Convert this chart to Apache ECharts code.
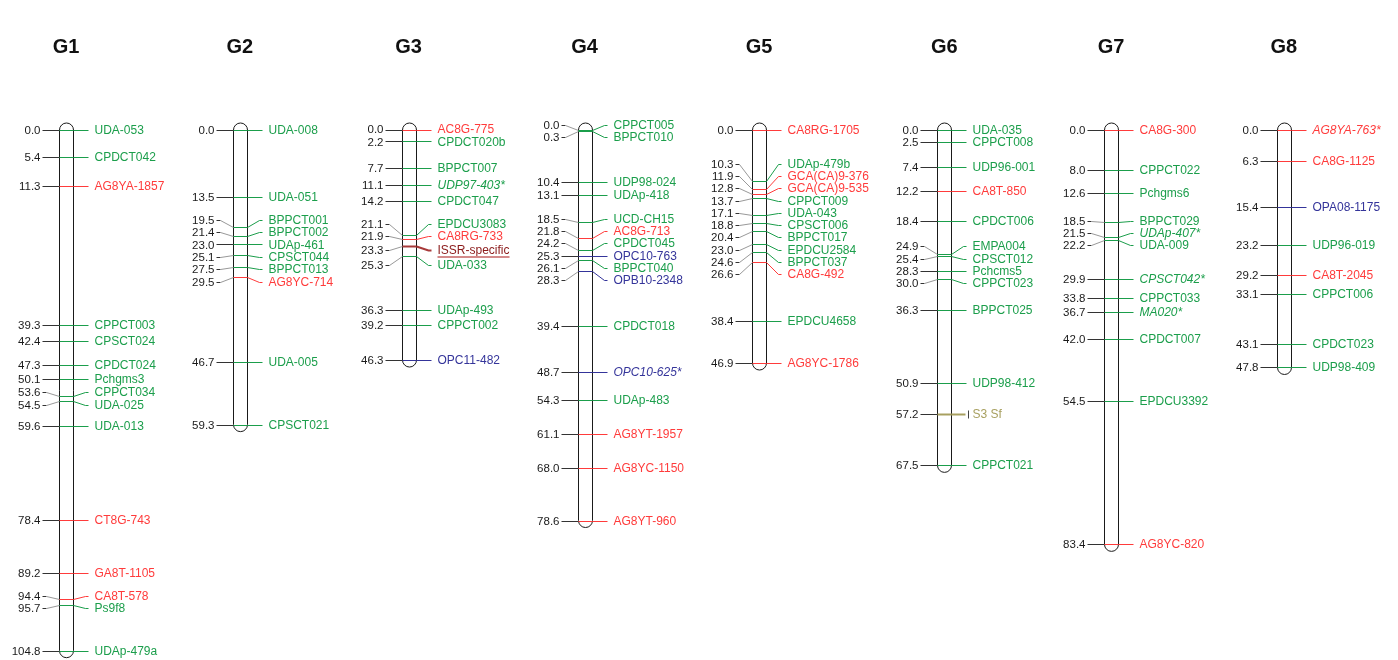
<!DOCTYPE html>
<html>
<head>
<meta charset="utf-8">
<script src="https://cdn.jsdelivr.net/npm/echarts@6/dist/echarts.min.js"></script>
<style>html,body{margin:0;padding:0;background:#fff}#main{width:1398px;height:660px}</style>
</head>
<body>
<div id="main"></div>
<script>
// ---- DATA ----
// Linkage groups; each marker: [position cM, marker name, marker class]
// classes: S = SSR (green), I = ISSR (red), R = RAPD (blue), L = S-locus (olive), X = ISSR-specific (dark red)
const groupNames = ['G1', 'G2', 'G3', 'G4', 'G5', 'G6', 'G7', 'G8'];
const G1 = [
  [0.0, 'UDA-053', 'S'], [5.4, 'CPDCT042', 'S'], [11.3, 'AG8YA-1857', 'I'], [39.3, 'CPPCT003', 'S'],
  [42.4, 'CPSCT024', 'S'], [47.3, 'CPDCT024', 'S'], [50.1, 'Pchgms3', 'S'], [53.6, 'CPPCT034', 'S'],
  [54.5, 'UDA-025', 'S'], [59.6, 'UDA-013', 'S'], [78.4, 'CT8G-743', 'I'], [89.2, 'GA8T-1105', 'I'],
  [94.4, 'CA8T-578', 'I'], [95.7, 'Ps9f8', 'S'], [104.8, 'UDAp-479a', 'S']
];
const G2 = [
  [0.0, 'UDA-008', 'S'], [13.5, 'UDA-051', 'S'], [19.5, 'BPPCT001', 'S'], [21.4, 'BPPCT002', 'S'],
  [23.0, 'UDAp-461', 'S'], [25.1, 'CPSCT044', 'S'], [27.5, 'BPPCT013', 'S'], [29.5, 'AG8YC-714', 'I'],
  [46.7, 'UDA-005', 'S'], [59.3, 'CPSCT021', 'S']
];
const G3 = [
  [0.0, 'AC8G-775', 'I'], [2.2, 'CPDCT020b', 'S'], [7.7, 'BPPCT007', 'S'], [11.1, 'UDP97-403*', 'S'],
  [14.2, 'CPDCT047', 'S'], [21.1, 'EPDCU3083', 'S'], [21.9, 'CA8RG-733', 'I'], [23.3, 'ISSR-specific', 'X'],
  [25.3, 'UDA-033', 'S'], [36.3, 'UDAp-493', 'S'], [39.2, 'CPPCT002', 'S'], [46.3, 'OPC11-482', 'R']
];
const G4 = [
  [0.0, 'CPPCT005', 'S'], [0.3, 'BPPCT010', 'S'], [10.4, 'UDP98-024', 'S'], [13.1, 'UDAp-418', 'S'],
  [18.5, 'UCD-CH15', 'S'], [21.8, 'AC8G-713', 'I'], [24.2, 'CPDCT045', 'S'], [25.3, 'OPC10-763', 'R'],
  [26.1, 'BPPCT040', 'S'], [28.3, 'OPB10-2348', 'R'], [39.4, 'CPDCT018', 'S'], [48.7, 'OPC10-625*', 'R'],
  [54.3, 'UDAp-483', 'S'], [61.1, 'AG8YT-1957', 'I'], [68.0, 'AG8YC-1150', 'I'], [78.6, 'AG8YT-960', 'I']
];
const G5 = [
  [0.0, 'CA8RG-1705', 'I'], [10.3, 'UDAp-479b', 'S'], [11.9, 'GCA(CA)9-376', 'I'], [12.8, 'GCA(CA)9-535', 'I'],
  [13.7, 'CPPCT009', 'S'], [17.1, 'UDA-043', 'S'], [18.8, 'CPSCT006', 'S'], [20.4, 'BPPCT017', 'S'],
  [23.0, 'EPDCU2584', 'S'], [24.6, 'BPPCT037', 'S'], [26.6, 'CA8G-492', 'I'], [38.4, 'EPDCU4658', 'S'],
  [46.9, 'AG8YC-1786', 'I']
];
const G6 = [
  [0.0, 'UDA-035', 'S'], [2.5, 'CPPCT008', 'S'], [7.4, 'UDP96-001', 'S'], [12.2, 'CA8T-850', 'I'],
  [18.4, 'CPDCT006', 'S'], [24.9, 'EMPA004', 'S'], [25.4, 'CPSCT012', 'S'], [28.3, 'Pchcms5', 'S'],
  [30.0, 'CPPCT023', 'S'], [36.3, 'BPPCT025', 'S'], [50.9, 'UDP98-412', 'S'], [57.2, 'S3 Sf', 'L'],
  [67.5, 'CPPCT021', 'S']
];
const G7 = [
  [0.0, 'CA8G-300', 'I'], [8.0, 'CPPCT022', 'S'], [12.6, 'Pchgms6', 'S'], [18.5, 'BPPCT029', 'S'],
  [21.5, 'UDAp-407*', 'S'], [22.2, 'UDA-009', 'S'], [29.9, 'CPSCT042*', 'S'], [33.8, 'CPPCT033', 'S'],
  [36.7, 'MA020*', 'S'], [42.0, 'CPDCT007', 'S'], [54.5, 'EPDCU3392', 'S'], [83.4, 'AG8YC-820', 'I']
];
const G8 = [
  [0.0, 'AG8YA-763*', 'I'], [6.3, 'CA8G-1125', 'I'], [15.4, 'OPA08-1175', 'R'], [23.2, 'UDP96-019', 'S'],
  [29.2, 'CA8T-2045', 'I'], [33.1, 'CPPCT006', 'S'], [43.1, 'CPDCT023', 'S'], [47.8, 'UDP98-409', 'S']
];
const groups = [G1, G2, G3, G4, G5, G6, G7, G8];

// ---- STYLE ----
const FONT_FAMILY = '"Liberation Sans", Arial, Helvetica, sans-serif';
const classColor = { S: '#1b9e4b', I: '#ff3b3b', R: '#34349a', L: '#a8a060', X: '#8b1a1a' };
const BAR_W = 14;
const LABEL_H = 12.3;

function nameFont(name) {
  return (name.endsWith('*') ? 'italic ' : '') + '12px ' + FONT_FAMILY;
}
const measureCtx = document.createElement('canvas').getContext('2d');
function textW(str, font) { measureCtx.font = font; return measureCtx.measureText(str).width; }

// horizontal layout: each group is placed after the widest right-hand label of the previous one
const centers = [0];
for (let i = 1; i < groups.length; i++) {
  const w = Math.max.apply(null, groups[i - 1].map(m => textW(m[1], nameFont(m[1]))));
  centers.push(centers[i - 1] + 104 + w);
}

// spread labels so they do not overlap; h[k] is the label height of item k
function spread(t, h) {
  const clusters = [];
  const gapBetween = (a, b) => (h[a] + h[b]) / 2;
  t.forEach((v, i) => {
    clusters.push({ idx: [i], off: [0], start: v });
    while (clusters.length > 1) {
      const a = clusters[clusters.length - 2], b = clusters[clusters.length - 1];
      const aLast = a.idx[a.idx.length - 1];
      const g = gapBetween(aLast, b.idx[0]);
      if (a.start + a.off[a.off.length - 1] + g > b.start + 1e-6) {
        const base = a.off[a.off.length - 1] + g;
        const idx = a.idx.concat(b.idx);
        const off = a.off.concat(b.off.map(o => o + base));
        let s = 0;
        idx.forEach((k, j) => { s += t[k] - off[j]; });
        clusters.splice(-2, 2, { idx: idx, off: off, start: s / idx.length });
      } else break;
    }
  });
  const out = new Array(t.length);
  clusters.forEach(c => c.idx.forEach((k, j) => { out[k] = c.start + c.off[j]; }));
  return out;
}

function renderGroup(params, api) {
  const gi = api.value(1);
  const xv = api.value(0);
  const list = groups[gi];
  const cx = api.coord([xv, 0])[0];
  const bl = Math.round(cx - BAR_W / 2) + 0.5, br = bl + BAR_W;
  const tY = list.map(m => api.coord([xv, m[0]])[1]);
  const lY = spread(tY, list.map(m => m[2] === 'X' ? LABEL_H + 4 : LABEL_H));
  const yTop = api.coord([xv, 0])[1];
  const yEnd = api.coord([xv, list[list.length - 1][0]])[1];
  const children = [];
  children.push({
    type: 'text', x: cx, y: 47,
    style: { text: groupNames[gi], font: 'bold 20px ' + FONT_FAMILY, fill: '#111', align: 'center', verticalAlign: 'middle' }
  });
  children.push({
    type: 'rect',
    shape: { x: bl, y: yTop - 7, width: BAR_W, height: yEnd - yTop + 14, r: 7 },
    style: { fill: '#fff', stroke: '#1a1a1a', lineWidth: 1 }
  });
  list.forEach((mk, k) => {
    const c = classColor[mk[2]];
    const m = Math.round(tY[k]) + 0.5;
    const l = Math.round(lY[k]) + 0.5;
    const moved = Math.abs(lY[k] - tY[k]) > 1;
    const lw = (mk[2] === 'L' || mk[2] === 'X') ? 2 : 1;
    const lineCol = mk[2] === 'X' ? '#a83a3a' : c;
    if (!moved) {
      children.push({ type: 'line', shape: { x1: bl - 17, y1: m, x2: bl, y2: m }, style: { stroke: '#333', lineWidth: 1 } });
    } else {
      children.push({ type: 'line', shape: { x1: bl - 17, y1: l, x2: bl - 13, y2: l }, style: { stroke: '#333', lineWidth: 1 } });
      children.push({ type: 'line', shape: { x1: bl - 13, y1: l, x2: bl, y2: m }, style: { stroke: '#999', lineWidth: 1 } });
    }
    children.push({ type: 'line', shape: { x1: bl, y1: m, x2: br, y2: m }, style: { stroke: lineCol, lineWidth: lw } });
    if (!moved) {
      children.push({ type: 'line', shape: { x1: br, y1: m, x2: br + (mk[2] === 'L' ? 14 : 15), y2: m }, style: { stroke: lineCol, lineWidth: lw } });
    } else {
      children.push({ type: 'polyline', shape: { points: [[br, m], [br + 12, l], [br + 15, l]] }, style: { stroke: lineCol, lineWidth: lw, fill: null } });
    }
    if (mk[2] === 'L') {
      children.push({ type: 'line', shape: { x1: br + 17, y1: l - 4, x2: br + 17, y2: l + 4 }, style: { stroke: '#444', lineWidth: 1 } });
    }
    children.push({
      type: 'text', x: bl - 19, y: l,
      style: { text: mk[0].toFixed(1), font: '11.5px ' + FONT_FAMILY, fill: '#1a1a1a', align: 'right', verticalAlign: 'middle' }
    });
    children.push({
      type: 'text', x: br + 21, y: l,
      style: { text: mk[1], font: nameFont(mk[1]), fill: c, align: 'left', verticalAlign: 'middle' }
    });
    if (mk[2] === 'X') {
      const w = textW(mk[1], nameFont(mk[1]));
      children.push({ type: 'line', shape: { x1: br + 21, y1: l + 6.5, x2: br + 21 + w, y2: l + 6.5 }, style: { stroke: '#d48a8a', lineWidth: 2 } });
    }
  });
  return { type: 'group', children: children };
}

const chart = echarts.init(document.getElementById('main'), null, { renderer: 'canvas' });
chart.setOption({
  animation: false,
  backgroundColor: '#fff',
  grid: { left: 0, right: 0, top: 130, bottom: 9.3 },
  xAxis: { type: 'value', min: -66, max: 1332, show: false },
  yAxis: { type: 'value', inverse: true, min: 0, max: 104.8, show: false },
  series: [{
    type: 'custom',
    renderItem: renderGroup,
    encode: { x: 0, y: 2 },
    clip: false,
    data: groups.map((g, i) => [centers[i], i, 0])
  }]
});
</script>
</body>
</html>
